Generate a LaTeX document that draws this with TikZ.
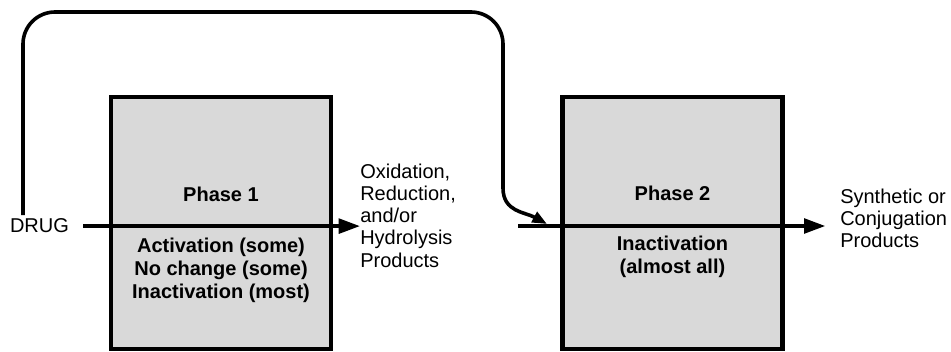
\documentclass[tikz,border=0pt]{standalone}
\usepackage{fontspec}
\setmainfont{Liberation Sans}
\usetikzlibrary{arrows.meta}

\begin{document}
\begin{tikzpicture}[x=0.75pt,y=0.75pt,
  casuta/.style={draw,line width=3.2pt,fill=gray!30,minimum width=165pt,minimum height=189pt,inner sep=0pt},
  gros/.style={font=\bfseries\fontsize{15}{17.25}\selectfont,align=center,inner sep=0pt},
  simplu/.style={font=\fontsize{15}{16.7}\selectfont,align=left,inner sep=0pt},
  sageata/.style={line width=2.7pt,-{Triangle[length=16pt,width=11pt]}},
  ocol/.style={line width=2.7pt,rounded corners=24pt}]
  \useasboundingbox (0,0) rectangle (951,351);
  % casutele
  \node[casuta] (phA) at (221,128) {};
  \node[casuta] (phB) at (672.5,128) {};
  % textele din casute
  \node[gros,anchor=base] (phAname) at (221,149.5) {Phase 1};
  \node[gros,anchor=north] (phAout) at (221,113) {Activation (some)\\No change (some)\\Inactivation (most)};
  \node[gros,anchor=base] (phBname) at (672.5,150.3) {Phase 2};
  \node[gros,anchor=north] (phBout) at (672.5,115.5) {Inactivation\\(almost all)};
  % textele din afara
  \node[simplu,inner xsep=10.5pt,anchor=base] (drug) at (39.5,118) {DRUG};
  \node[simplu,anchor=north west] (oxid) at (360,187.6) {Oxidation,\\Reduction,\\and/or\\Hydrolysis\\Products};
  \node[simplu,anchor=north west] (synth) at (840,162.6) {Synthetic or\\Conjugation\\Products};
  % puncte libere
  \coordinate (split) at (23,136);
  \coordinate (bend) at (503,163);
  \coordinate (in2) at (518,125);
  \coordinate (join) at (547,127);
  % sagetile
  \draw[sageata] (drug.east) -- (drug.east -| oxid.west);
  \draw[sageata,shorten >=11pt] (in2) -- (in2 -| synth.west);
  \draw[ocol] (split) |- (263,339) -| (bend);
  \draw[line width=2.7pt,-{Triangle[length=11pt,width=8.5pt]}] (bend) .. controls (503,139) and (525,139) .. (join);
\end{tikzpicture}
\end{document}
